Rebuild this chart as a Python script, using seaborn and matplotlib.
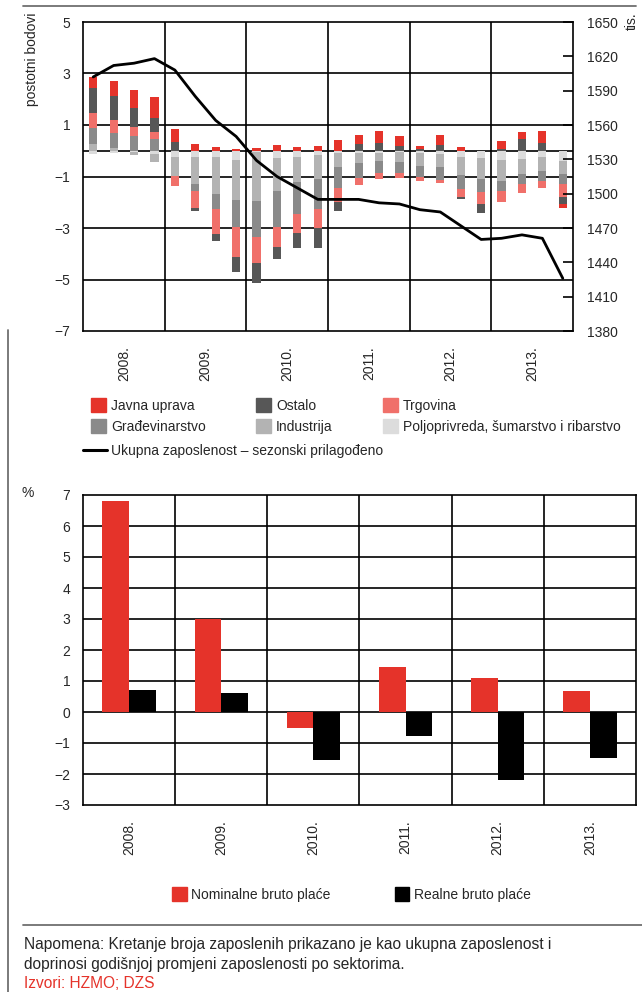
import numpy as np
import pandas as pd
import matplotlib.pyplot as plt
import seaborn as sns
from matplotlib.patches import Patch
from matplotlib.lines import Line2D

# --- data: sector contributions to annual employment change (p.p.) ---
years = ['2008', '2009', '2010', '2011', '2012', '2013']
quarters = [y + 'Q' + str(q) for y in years for q in range(1, 5)]

javna_uprava = [0.41, 0.58, 0.67, 0.78, 0.52, 0.26, 0.16, 0.07, 0.09, 0.22, 0.16, 0.19,
                0.42, 0.35, 0.44, 0.39, 0.14, 0.41, 0.16, 0.00, 0.30, 0.26, 0.44, -0.17]
ostalo = [0.98, 0.94, 0.75, 0.58, 0.33, -0.10, -0.25, -0.58, -0.78, -0.47, -0.61, -0.78,
          -0.36, 0.26, 0.32, 0.19, 0.06, 0.22, -0.06, -0.35, 0.06, 0.45, 0.32, -0.28]
trgovina = [0.58, 0.49, 0.35, 0.27, -0.39, -0.67, -0.97, -1.17, -1.01, -0.80, -0.72, -0.75,
            -0.52, -0.30, -0.22, -0.19, -0.13, -0.10, -0.31, -0.43, -0.41, -0.34, -0.28, -0.49]
gradjevinarstvo = [0.61, 0.58, 0.57, 0.44, 0.00, -0.27, -0.60, -1.04, -1.41, -1.38, -1.26, -1.15,
                   -0.84, -0.58, -0.48, -0.43, -0.45, -0.52, -0.56, -0.52, -0.39, -0.38, -0.39, -0.39]
industrija = [0.28, 0.12, -0.12, -0.32, -0.75, -1.04, -1.42, -1.55, -1.90, -1.30, -0.97, -0.93,
              -0.52, -0.38, -0.30, -0.39, -0.48, -0.48, -0.71, -0.83, -0.82, -0.60, -0.53, -0.50]
poljoprivreda = [-0.13, -0.10, -0.06, -0.12, -0.23, -0.26, -0.26, -0.36, -0.05, -0.27, -0.23, -0.18,
                 -0.10, -0.08, -0.10, -0.06, -0.10, -0.14, -0.23, -0.27, -0.36, -0.32, -0.26, -0.40]

# total employment, seasonally adjusted (thousands)
zaposlenost = [1602, 1612, 1614, 1618, 1608, 1585, 1564, 1550, 1529, 1515, 1505, 1495,
               1495, 1495, 1492, 1491, 1486, 1484, 1472, 1460, 1461, 1464, 1461, 1426]

# --- data: gross wages, annual change (%) ---
nominalne = [6.81, 3.01, -0.53, 1.45, 1.10, 0.69]
realne = [0.72, 0.62, -1.56, -0.78, -2.20, -1.49]

RED = '#E5332A'
c_ju, c_ost, c_trg = RED, '#575757', '#F0706A'
c_gra, c_ind, c_pol = '#8A8A8A', '#B3B3B3', '#DCDCDC'

sns.set_style('white')
plt.rcParams['font.family'] = ['Liberation Sans', 'DejaVu Sans']
plt.rcParams['font.size'] = 10

fig = plt.figure(figsize=(6.42, 9.92), dpi=100)

# ================= top chart =================
ax = fig.add_axes([83 / 642, 1 - 331 / 992, 490 / 642, 309 / 992])

# stacking order, from zero outwards
stack = [(poljoprivreda, c_pol), (industrija, c_ind), (gradjevinarstvo, c_gra),
         (trgovina, c_trg), (ostalo, c_ost), (javna_uprava, c_ju)]
vals = np.array([s[0] for s in stack])
cols = [s[1] for s in stack]
pos_cum = np.cumsum(np.clip(vals, 0, None), axis=0)
neg_cum = np.cumsum(np.clip(vals, None, 0), axis=0)

# draw outermost first so inner layers sit on top
for i in range(len(stack) - 1, -1, -1):
    for cum in (pos_cum, neg_cum):
        sns.barplot(x=quarters, y=cum[i], order=quarters, color=cols[i], saturation=1,
                    width=0.4, linewidth=0, errorbar=None, ax=ax, zorder=2)

ax.set_ylim(-7, 5)
ax.set_yticks([5, 3, 1, -1, -3, -5, -7])
for yv in [3, 1, 0, -1, -3, -5]:
    ax.axhline(yv, color='black', lw=1.2, zorder=1)
for xv in [3.5, 7.5, 11.5, 15.5, 19.5]:
    ax.axvline(xv, color='black', lw=1.2, zorder=1)
ax.set_xticks([1.5, 5.5, 9.5, 13.5, 17.5, 21.5])
ax.set_xticklabels([y + '.' for y in years], rotation=90)
ax.tick_params(axis='both', length=0, labelsize=10)
ax.tick_params(axis='y', pad=9)
ax.tick_params(axis='x', pad=11)
ax.set_xlabel('')
ax.set_ylabel('')
for sp in ax.spines.values():
    sp.set_color('black')
    sp.set_linewidth(1.2)

ax2 = ax.twinx()
sns.lineplot(x=np.arange(len(zaposlenost)), y=zaposlenost, color='black', lw=2.0, ax=ax2)
ax2.set_ylim(1380, 1650)
ax2.set_yticks(np.arange(1380, 1651, 30))
ax2.tick_params(axis='y', direction='in', length=7, width=1.2, color='black', pad=10, labelsize=10)
for sp in ax2.spines.values():
    sp.set_visible(False)
ax2.set_ylabel('')
ax.set_xlim(-0.5, 23.5)

fig.text(32 / 642, 1 - 12 / 992, 'postotni bodovi', rotation=90, ha='center', va='top', fontsize=10)
fig.text(632 / 642, 1 - 12 / 992, 'tis.', rotation=90, ha='center', va='top', fontsize=10)

h1 = [Patch(color=c_ju), Patch(color=c_gra), Patch(color=c_ost),
      Patch(color=c_ind), Patch(color=c_trg), Patch(color=c_pol)]
l1 = ['Javna uprava', 'Građevinarstvo', 'Ostalo', 'Industrija', 'Trgovina',
      'Poljoprivreda, šumarstvo i ribarstvo']
fig.legend(h1, l1, ncol=3, loc='upper left', bbox_to_anchor=(84 / 642, 1 - 391 / 992),
           frameon=False, borderpad=0, handlelength=1.1, handleheight=1.2,
           handletextpad=0.35, columnspacing=3.6, labelspacing=0.45, fontsize=10)
fig.legend([Line2D([0], [0], color='black', lw=2.2)], ['Ukupna zaposlenost – sezonski prilagođeno'],
           loc='upper left', bbox_to_anchor=(76 / 642, 1 - 437 / 992), frameon=False,
           borderpad=0, handlelength=1.7, handletextpad=0.35, fontsize=10)

# ================= bottom chart =================
bx = fig.add_axes([83 / 642, 1 - 805 / 992, 553 / 642, 310 / 992])
wages = pd.DataFrame({
    'godina': [y + '.' for y in years] * 2,
    'serija': ['Nominalne bruto plaće'] * 6 + ['Realne bruto plaće'] * 6,
    'vrijednost': nominalne + realne,
})
sns.barplot(data=wages, x='godina', y='vrijednost', hue='serija', palette=[RED, 'black'],
            saturation=1, width=0.58, linewidth=0, errorbar=None, legend=False, ax=bx, zorder=2)
bx.set_ylim(-3, 7)
bx.set_yticks(range(-3, 8))
for yv in range(-2, 7):
    bx.axhline(yv, color='black', lw=1.2, zorder=1)
for xv in [0.5, 1.5, 2.5, 3.5, 4.5]:
    bx.axvline(xv, color='black', lw=1.2, zorder=1)
bx.set_xlim(-0.5, 5.5)
bx.tick_params(axis='both', length=0, labelsize=10)
bx.tick_params(axis='y', pad=9)
bx.tick_params(axis='x', pad=11, rotation=90)
bx.set_xlabel('')
bx.set_ylabel('')
for sp in bx.spines.values():
    sp.set_color('black')
    sp.set_linewidth(1.2)

fig.text(28 / 642, 1 - 493 / 992, '%', ha='center', va='center', fontsize=10)
fig.legend([Patch(color=RED), Patch(color='black')], ['Nominalne bruto plaće', 'Realne bruto plaće'],
           ncol=2, loc='upper left', bbox_to_anchor=(165 / 642, 1 - 880 / 992), frameon=False,
           borderpad=0, handlelength=1.05, handleheight=1.2, handletextpad=0.35,
           columnspacing=4.6, fontsize=10)

# frame lines and notes
fig.add_artist(Line2D([23 / 642, 636 / 642], [1 - 6 / 992, 1 - 6 / 992], color='#707070', lw=1.3))
fig.add_artist(Line2D([23 / 642, 1.0], [1 - 925 / 992, 1 - 925 / 992], color='#707070', lw=1.3))
fig.add_artist(Line2D([8 / 642, 8 / 642], [0, 1 - 330 / 992], color='#707070', lw=1.3))

fig.text(24 / 642, 1 - 945 / 992,
         'Napomena: Kretanje broja zaposlenih prikazano je kao ukupna zaposlenost i',
         va='center', fontsize=11.2)
fig.text(24 / 642, 1 - 964 / 992, 'doprinosi godišnjoj promjeni zaposlenosti po sektorima.',
         va='center', fontsize=11.2)
fig.text(24 / 642, 1 - 983 / 992, 'Izvori: HZMO; DZS', va='center', fontsize=11.2, color=RED)

fig.savefig('out.png', dpi=100)
